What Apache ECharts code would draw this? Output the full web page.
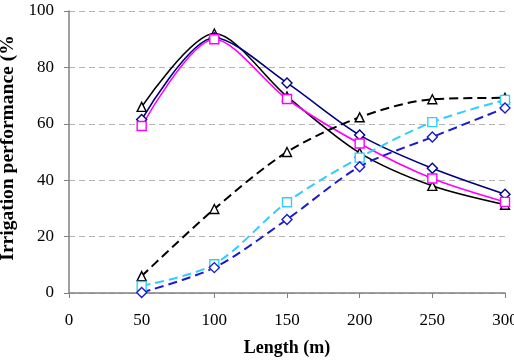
<!DOCTYPE html>
<html>
<head>
<meta charset="utf-8">
<script src="https://cdn.jsdelivr.net/npm/echarts@6/dist/echarts.min.js"></script>
<style>
  html, body { margin: 0; padding: 0; background: #fff; }
  #container { width: 514px; height: 362px; }
</style>
</head>
<body>
<div id="container"></div>
<script>
var lengths = [50, 100, 150, 200, 250, 300];
var solidTriangle = [66, 92, 69.7, 49.7, 38, 31.3];
var solidDiamond = [61.5, 90.5, 74.5, 56, 44.2, 35];
var solidSquare = [59.2, 90, 68.8, 53, 40.6, 32.3];
var dashTriangle = [6, 29.8, 50, 62.3, 68.7, 69.2];
var dashSquare = [2.5, 10.2, 32.2, 48, 60.6, 68.5];
var dashDiamond = [0.2, 9, 26.1, 44.8, 55.3, 65.6];

var font = '"Liberation Serif", "Times New Roman", serif';

function pairs(vals) {
    return lengths.map(function (x, i) { return [x, vals[i]]; });
}

function makeSeries(name, vals, color, symbol, dashed) {
    return {
        name: name,
        type: 'line',
        smooth: 0.3,
        data: pairs(vals),
        symbol: symbol,
        symbolSize: symbol == 'diamond' ? 10 : 9,
        lineStyle: {color: color, width: dashed ? 2 : 1.6, type: dashed ? [9, 5] : 'solid'},
        itemStyle: {color: '#ffffff', borderColor: color, borderWidth: 1.4},
        z: 3
    };
}

var myChart = echarts.init(document.getElementById('container'));
var option = {
    backgroundColor: '#ffffff',
    animation: false,
    grid: {left: 69, right: 9, top: 11, bottom: 69, outerBoundsMode: 'none'},
    xAxis: {
        type: 'value',
        min: 0, max: 300, interval: 50,
        name: 'Length (m)',
        nameLocation: 'middle',
        nameGap: 46,
        nameTextStyle: {fontFamily: font, fontSize: 18, fontWeight: 'bold', color: '#000'},
        axisLine: {show: true, onZero: false, lineStyle: {color: '#808080', width: 1.5}},
        axisTick: {show: true, length: 5, lineStyle: {color: '#808080'}},
        axisLabel: {fontFamily: font, fontSize: 17, color: '#000', margin: 19},
        splitLine: {show: false}
    },
    yAxis: {
        type: 'value',
        min: 0, max: 100, interval: 20,
        name: 'Irrigation performance (%',
        nameLocation: 'middle',
        nameGap: 48,
        nameTextStyle: {fontFamily: font, fontSize: 19.5, fontWeight: 'bold', color: '#000', padding: [0, 0, 0, 8]},
        axisLine: {show: true, lineStyle: {color: '#808080', width: 1.5}},
        axisTick: {show: true, length: 5, lineStyle: {color: '#808080'}},
        axisLabel: {fontFamily: font, fontSize: 17, color: '#000', margin: 15},
        splitLine: {show: true, lineStyle: {color: '#b4b4b4', type: [6, 4]}}
    },
    series: [
        makeSeries('solid-triangle', solidTriangle, '#000000', 'triangle', false),
        makeSeries('solid-diamond', solidDiamond, '#000080', 'diamond', false),
        makeSeries('solid-square', solidSquare, '#ff00ff', 'rect', false),
        makeSeries('dash-triangle', dashTriangle, '#000000', 'triangle', true),
        makeSeries('dash-square', dashSquare, '#33ccff', 'rect', true),
        makeSeries('dash-diamond', dashDiamond, '#1a1ad0', 'diamond', true)
    ]
};
myChart.setOption(option);
</script>
</body>
</html>
